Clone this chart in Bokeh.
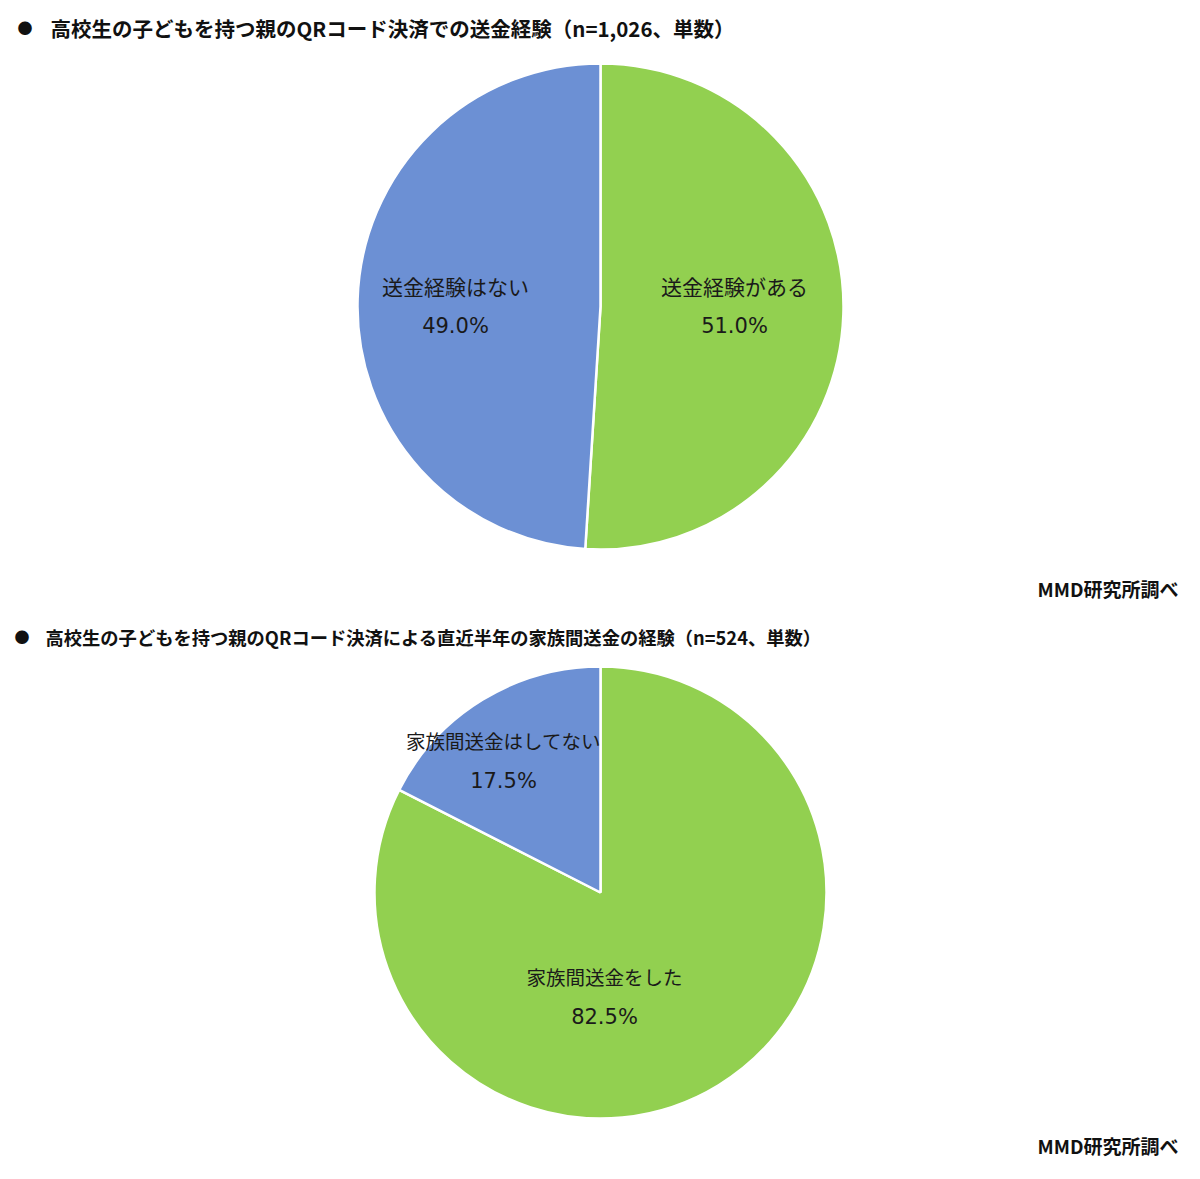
import math
from bokeh.plotting import figure
from bokeh.models import ColumnDataSource
from bokeh.core.properties import value
from bokeh.embed import file_html
from bokeh.resources import INLINE

# ---- data ----
title1 = "高校生の子どもを持つ親のQRコード決済での送金経験（n=1,026、単数）"
cats1 = ["送金経験がある", "送金経験はない"]
vals1 = [51.0, 49.0]

title2 = "高校生の子どもを持つ親のQRコード決済による直近半年の家族間送金の経験（n=524、単数）"
cats2 = ["家族間送金をした", "家族間送金はしてない"]
vals2 = [82.5, 17.5]

source_note = "MMD研究所調べ"

colors = ["#92D050", "#6C90D4"]

W, H = 1184, 1163
FONT = "Noto Sans CJK JP"
NUMFONT = "DejaVu Sans"

p = figure(width=W, height=H, x_range=(0, W), y_range=(0, H),
           output_backend="svg", toolbar_location=None, min_border=0)
p.axis.visible = False
p.grid.visible = False
p.outline_line_color = None
p.background_fill_color = "white"


def Y(ys):
    return H - ys


def draw_pie(cx, cy, r, cats, vals, label_offsets, name_size):
    total = sum(vals)
    starts, ends = [], []
    a = math.pi / 2
    for v in vals:
        starts.append(a)
        a = a - 2 * math.pi * v / total
        ends.append(a)
    src = ColumnDataSource(dict(x=[cx] * len(vals), y=[Y(cy)] * len(vals),
                                start=starts, end=ends, color=colors[:len(vals)]))
    p.wedge(x="x", y="y", radius=r, radius_units="screen", start_angle="start",
            end_angle="end", direction="clock", fill_color="color",
            line_color="white", line_width=2.5, source=src)
    lx = [cx + dx for dx, dy in label_offsets]
    ly = [Y(cy + dy) for dx, dy in label_offsets]
    names = list(cats)
    pcts = [f"{v:.1f}%" for v in vals]
    p.text(x=lx, y=[v + 20 for v in ly], text=names, text_align="center",
           text_baseline="middle", text_font=value(FONT),
           text_font_size=name_size, text_color="#1a1a1a")
    p.text(x=lx, y=[v - 20 for v in ly], text=pcts, text_align="center",
           text_baseline="middle", text_font=value(NUMFONT),
           text_font_size="21px", text_color="#1a1a1a")


# pie 1
draw_pie(600, 306, 243, cats1, vals1, [(134, -1), (-145, -1)], "21px")
# pie 2
draw_pie(600, 892, 226, cats2, vals2, [(4, 104), (-97, -132)], "19.5px")

# titles
p.text(x=[17], y=[Y(27)], text=["●"], text_baseline="middle",
       text_font=value(FONT), text_font_size="15px", text_color="#111111")
p.text(x=[50], y=[Y(27)], text=[title1], text_baseline="middle",
       text_font=value(FONT), text_font_size="20.5px", text_font_style="bold",
       text_color="#111111")
p.text(x=[14], y=[Y(636)], text=["●"], text_baseline="middle",
       text_font=value(FONT), text_font_size="15px", text_color="#111111")
p.text(x=[45], y=[Y(636)], text=[title2], text_baseline="middle",
       text_font=value(FONT), text_font_size="18.3px", text_font_style="bold",
       text_color="#111111")

# source notes
for yy in (588, 1145):
    p.text(x=[1178], y=[Y(yy)], text=[source_note], text_align="right",
           text_baseline="middle", text_font=value(FONT), text_font_size="19px",
           text_font_style="bold", text_color="#111111")

open("out.html", "w").write(file_html(p, INLINE))
